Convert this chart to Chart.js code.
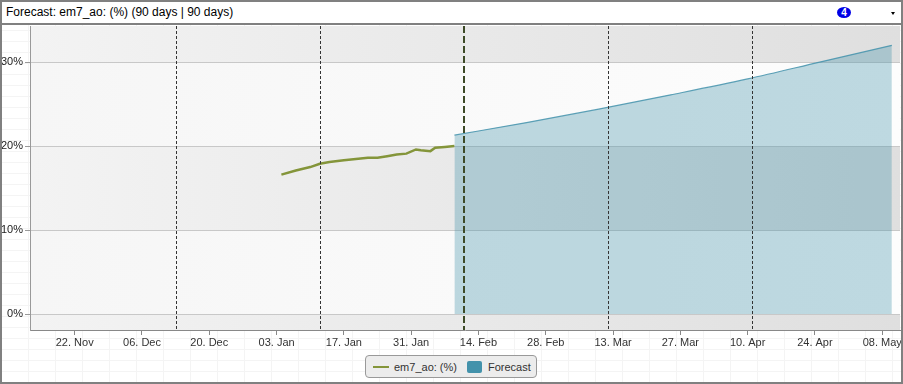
<!DOCTYPE html>
<html>
<head>
<meta charset="utf-8">
<script src="https://cdn.jsdelivr.net/npm/chart.js@4.4.1/dist/chart.umd.min.js"></script>
<style>
    body { margin: 0; background: #fff; font-family: "Liberation Sans", Arial, sans-serif; }
    #wrap {
        position: relative; width: 903px; height: 384px; box-sizing: border-box;
        border: 2px solid #808080; overflow: hidden;
        background-color: #fff;
        background-image:
            repeating-linear-gradient(90deg, transparent 0 26px, #f4f4f4 26px 27px),
            repeating-linear-gradient(0deg, transparent 0 10px, #f4f4f4 10px 11px);
    }
    #title {
        position: relative; height: 21px; border-bottom: 2px solid #808080; background: #fff;
        font-size: 12px; line-height: 21px; padding-left: 4px; color: #000;
    }
    #badge {
        position: absolute; left: 835px; top: 5px; width: 14px; height: 11px; border-radius: 50%;
        background: #0000e6; color: #fff; font: bold 10px "Liberation Sans", Arial, sans-serif;
        line-height: 11px; text-align: center;
    }
    #arrow {
        position: absolute; left: 889px; top: 10px; width: 0; height: 0;
        border-left: 2px solid transparent; border-right: 2px solid transparent; border-top: 3px solid #000;
    }
    #chart { position: absolute; left: 0; top: 23px; }
    #legend {
        position: absolute; left: 363px; top: 353px; width: 172px; height: 23px; box-sizing: border-box;
        border: 1px solid #999; border-radius: 4px; background: #ececec;
        display: flex; align-items: center; padding-left: 7px; font-size: 11px; color: #333;
    }
    .lineSw { width: 16px; height: 2px; background: #84953a; margin-right: 5px; }
    .boxSw { width: 15px; height: 12px; border-radius: 2px; background: #4392ab; margin: 0 6px 0 10px; }
</style>
</head>
<body>
<div id="wrap">
    <div id="title">Forecast: em7_ao: (%) (90 days | 90 days)<div id="badge">4</div><div id="arrow"></div></div>
    <canvas id="chart" width="899" height="357"></canvas>
    <div id="legend"><span class="lineSw"></span><span>em7_ao: (%)</span><span class="boxSw"></span><span>Forecast</span></div>
</div>
<script>
// measured history (em7_ao %)
const histDates = ['2024-01-04', '2024-01-07', '2024-01-10', '2024-01-12', '2024-01-14', '2024-01-17',
    '2024-01-20', '2024-01-22', '2024-01-24', '2024-01-26', '2024-01-28', '2024-01-30', '2024-02-01',
    '2024-02-02', '2024-02-04', '2024-02-05', '2024-02-07', '2024-02-09'];
const histValues = [16.6, 17.1, 17.5, 17.9, 18.1, 18.3, 18.5, 18.6, 18.6, 18.8, 19.0, 19.1, 19.6,
    19.5, 19.4, 19.8, 19.9, 20.0];

// forecast (upper edge of the area)
const fcDates = ['2024-02-09', '2024-02-24', '2024-03-10', '2024-03-25', '2024-04-10', '2024-04-25', '2024-05-10'];
const fcValues = [21.3, 22.8, 24.4, 26.1, 28.0, 30.0, 32.0];

// dashed marker lines, the thick one is "today"
const markerDates = ['2023-12-13', '2024-01-12', '2024-02-11', '2024-03-12', '2024-04-11'];
const todayDate = '2024-02-11';

const tickDates = ['2023-11-22', '2023-12-06', '2023-12-20', '2024-01-03', '2024-01-17', '2024-01-31',
    '2024-02-14', '2024-02-28', '2024-03-13', '2024-03-27', '2024-04-10', '2024-04-24', '2024-05-08'];
const tickLabels = ['22. Nov', '06. Dec', '20. Dec', '03. Jan', '17. Jan', '31. Jan',
    '14. Feb', '28. Feb', '13. Mar', '27. Mar', '10. Apr', '24. Apr', '08. May'];
const yTicks = [0, 10, 20, 30];
const bandEdges = [30, 20, 10, 0]; // alternating background bands

function dayNum(s) {
    return Date.parse(s + 'T00:00:00Z') / 86400000;
}

// background bands, light/grey alternating with a left-to-right shade
const bandsPlugin = {
    id: 'bands',
    beforeDraw(chart) {
        const { ctx, chartArea: a, scales: { y } } = chart;
        const grey = ctx.createLinearGradient(a.left, 0, a.right, 0);
        grey.addColorStop(0, '#f3f3f3');
        grey.addColorStop(1, '#dfdfdf');
        const light = ctx.createLinearGradient(a.left, 0, a.right, 0);
        light.addColorStop(0, '#f6f6f6');
        light.addColorStop(1, '#fdfdfd');
        const edges = [a.top].concat(bandEdges.map(v => y.getPixelForValue(v)), [a.bottom]);
        ctx.save();
        for (let i = 0; i < edges.length - 1; i++) {
            ctx.fillStyle = i % 2 === 0 ? grey : light;
            ctx.fillRect(a.left, edges[i], a.right - a.left, edges[i + 1] - edges[i]);
        }
        ctx.restore();
    }
};

// vertical dashed lines
const markersPlugin = {
    id: 'markers',
    afterDatasetsDraw(chart) {
        const { ctx, chartArea: a, scales: { x } } = chart;
        ctx.save();
        markerDates.forEach(d => {
            const px = Math.round(x.getPixelForValue(dayNum(d)));
            ctx.beginPath();
            if (d === todayDate) {
                ctx.lineWidth = 2;
                ctx.strokeStyle = '#3d4a27';
                ctx.setLineDash([7, 3]);
                ctx.moveTo(px, a.top);
                ctx.lineTo(px, a.bottom);
            } else {
                ctx.lineWidth = 1;
                ctx.strokeStyle = '#333';
                ctx.setLineDash([3, 2]);
                ctx.moveTo(px + 0.5, a.top);
                ctx.lineTo(px + 0.5, a.bottom);
            }
            ctx.stroke();
        });
        ctx.restore();
    }
};

const ctx = document.getElementById('chart').getContext('2d');
new Chart(ctx, {
    type: 'line',
    data: {
        datasets: [{
            label: 'Forecast',
            data: fcDates.map((d, i) => ({ x: dayNum(d), y: fcValues[i] })),
            borderColor: 'rgba(67,146,171,0.85)',
            borderWidth: 1.2,
            backgroundColor: 'rgba(67,146,171,0.34)',
            fill: 'origin',
            pointRadius: 0,
            cubicInterpolationMode: 'monotone'
        }, {
            label: 'em7_ao: (%)',
            data: histDates.map((d, i) => ({ x: dayNum(d), y: histValues[i] })),
            borderColor: '#84953a',
            borderWidth: 2.5,
            fill: false,
            pointRadius: 0
        }]
    },
    options: {
        responsive: false,
        animation: false,
        devicePixelRatio: 1,
        layout: { padding: { top: 1, right: 1, left: 0, bottom: 0 } },
        plugins: {
            legend: { display: false },
            tooltip: { enabled: false }
        },
        scales: {
            x: {
                type: 'linear',
                min: dayNum('2023-11-13') - 0.3,
                max: dayNum('2024-05-12') - 0.3,
                afterBuildTicks(scale) {
                    scale.ticks = tickDates.map(d => ({ value: dayNum(d) }));
                },
                afterFit(scale) {
                    scale.height = 52;
                    scale.paddingLeft = 0;
                    scale.paddingRight = 0;
                },
                ticks: {
                    autoSkip: false,
                    maxRotation: 0,
                    padding: 1,
                    color: '#333',
                    font: { family: 'Liberation Sans', size: 11 },
                    callback: (value, index) => tickLabels[index]
                },
                grid: { drawOnChartArea: false, drawTicks: true, tickLength: 5, tickColor: '#888' },
                border: { color: '#888' }
            },
            y: {
                min: -1.9,
                max: 34.3,
                afterBuildTicks(scale) {
                    scale.ticks = yTicks.map(v => ({ value: v }));
                },
                afterFit(scale) {
                    scale.width = 28;
                    scale.paddingTop = 0;
                    scale.paddingBottom = 0;
                },
                ticks: {
                    padding: 2,
                    color: '#222',
                    font: { family: 'Liberation Sans', size: 11 },
                    callback: v => v + '%'
                },
                grid: { color: '#c8c8c8', tickColor: '#999', tickLength: 5 },
                border: { color: '#999' }
            }
        }
    },
    plugins: [bandsPlugin, markersPlugin]
});
</script>
</body>
</html>
